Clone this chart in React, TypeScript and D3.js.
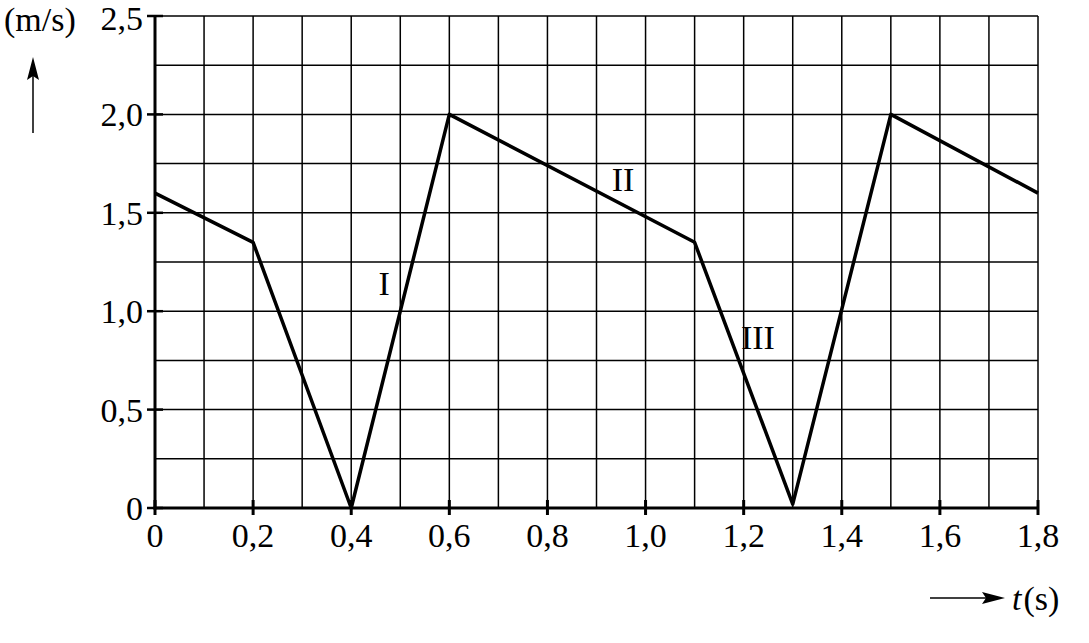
import * as d3 from "d3";
import { useEffect, useRef } from "react";

// time (s) and speed (m/s) at the corners of the graph
const times = [0, 0.2, 0.4, 0.6, 1.1, 1.3, 1.5, 1.8];
const speeds = [1.6, 1.35, 0, 2.0, 1.35, 0.02, 2.0, 1.6];

const xTicks = [0, 0.2, 0.4, 0.6, 0.8, 1.0, 1.2, 1.4, 1.6, 1.8];
const yTicks = [0, 0.5, 1.0, 1.5, 2.0, 2.5];

const segmentLabels = ["I", "II", "III"];
const labelSpots = [
  { t: 0.467, v: 1.08 },
  { t: 0.954, v: 1.61 },
  { t: 1.229, v: 0.81 },
];

const W = 1089;
const H = 643;
const FONT = "Liberation Serif, Tinos, DejaVu Serif, serif";
const FS = 34;

const fmt = (d: number) => (d === 0 ? "0" : d.toFixed(1).replace(".", ","));

export default function App() {
  const svgRef = useRef<SVGSVGElement>(null);

  useEffect(() => {
    if (!svgRef.current) return;
    const svg = d3.select(svgRef.current);
    svg.selectAll("*").remove();

    const x = d3.scaleLinear().domain([0, 1.8]).range([155, 1038]);
    const y = d3.scaleLinear().domain([0, 2.5]).range([508, 16]);

    // grid
    const grid = svg.append("g").attr("stroke", "#000").attr("stroke-width", 1.5);
    grid
      .selectAll("line.v")
      .data(d3.range(1, 19).map((i) => i / 10))
      .enter()
      .append("line")
      .attr("x1", (d) => x(d))
      .attr("x2", (d) => x(d))
      .attr("y1", y(0))
      .attr("y2", y(2.5));
    grid
      .selectAll("line.h")
      .data(d3.range(1, 11).map((i) => i * 0.25))
      .enter()
      .append("line")
      .attr("x1", x(0))
      .attr("x2", x(1.8))
      .attr("y1", (d) => y(d))
      .attr("y2", (d) => y(d));

    // axes
    svg
      .append("line")
      .attr("x1", x(0))
      .attr("x2", x(0))
      .attr("y1", y(0) + 1.5)
      .attr("y2", y(2.5) - 1)
      .attr("stroke", "#000")
      .attr("stroke-width", 3);
    svg
      .append("line")
      .attr("x1", x(0) - 1.5)
      .attr("x2", x(1.8) + 1)
      .attr("y1", y(0))
      .attr("y2", y(0))
      .attr("stroke", "#000")
      .attr("stroke-width", 3);

    // y ticks + labels
    svg
      .selectAll("line.yt")
      .data(yTicks)
      .enter()
      .append("line")
      .attr("x1", x(0) - 8)
      .attr("x2", x(0) + 8)
      .attr("y1", (d) => y(d))
      .attr("y2", (d) => y(d))
      .attr("stroke", "#000")
      .attr("stroke-width", 2.5);
    svg
      .selectAll("text.yl")
      .data(yTicks)
      .enter()
      .append("text")
      .attr("x", 143)
      .attr("y", (d) => (d === 2.5 ? 30 : y(d) + 12))
      .attr("text-anchor", "end")
      .attr("font-family", FONT)
      .attr("font-size", FS)
      .text(fmt);

    // x ticks + labels
    svg
      .selectAll("line.xt")
      .data(xTicks)
      .enter()
      .append("line")
      .attr("x1", (d) => x(d))
      .attr("x2", (d) => x(d))
      .attr("y1", y(0) - 8)
      .attr("y2", y(0) + 7)
      .attr("stroke", "#000")
      .attr("stroke-width", 3);
    svg
      .selectAll("text.xl")
      .data(xTicks)
      .enter()
      .append("text")
      .attr("x", (d) => x(d))
      .attr("y", y(0) + 39)
      .attr("text-anchor", "middle")
      .attr("font-family", FONT)
      .attr("font-size", FS)
      .text(fmt);

    // speed graph
    const line = d3
      .line<number>()
      .x((_d, i) => x(times[i]))
      .y((d) => y(d));
    svg
      .append("path")
      .datum(speeds)
      .attr("d", line)
      .attr("fill", "none")
      .attr("stroke", "#000")
      .attr("stroke-width", 3.5)
      .attr("stroke-linejoin", "round");

    // segment labels
    svg
      .selectAll("text.seg")
      .data(segmentLabels)
      .enter()
      .append("text")
      .attr("x", (_d, i) => x(labelSpots[i].t))
      .attr("y", (_d, i) => y(labelSpots[i].v))
      .attr("text-anchor", "middle")
      .attr("font-family", FONT)
      .attr("font-size", FS)
      .text((d) => d);

    // unit label + up arrow
    svg
      .append("text")
      .attr("x", 4)
      .attr("y", 31)
      .attr("font-family", FONT)
      .attr("font-size", FS)
      .text("(m/s)");
    svg
      .append("line")
      .attr("x1", 33)
      .attr("x2", 33)
      .attr("y1", 133)
      .attr("y2", 70)
      .attr("stroke", "#000")
      .attr("stroke-width", 1.5);
    svg
      .append("path")
      .attr("d", "M33,57 L39,80 L33,76 L27,80 Z")
      .attr("fill", "#000");

    // time label + right arrow
    svg
      .append("line")
      .attr("x1", 930)
      .attr("x2", 992)
      .attr("y1", 598)
      .attr("y2", 598)
      .attr("stroke", "#000")
      .attr("stroke-width", 1.5);
    svg
      .append("path")
      .attr("d", "M1005,598 L982,592 L986,598 L982,604 Z")
      .attr("fill", "#000");
    const tl = svg
      .append("text")
      .attr("x", 1012)
      .attr("y", 610)
      .attr("font-family", FONT)
      .attr("font-size", FS);
    tl.append("tspan").attr("font-style", "italic").text("t");
    tl.append("tspan").attr("dx", 2).text("(s)");
  }, []);

  return (
    <svg
      ref={svgRef}
      width={W}
      height={H}
      viewBox={`0 0 ${W} ${H}`}
      style={{ position: "absolute", left: 0, top: 0, background: "#fff" }}
    />
  );
}
